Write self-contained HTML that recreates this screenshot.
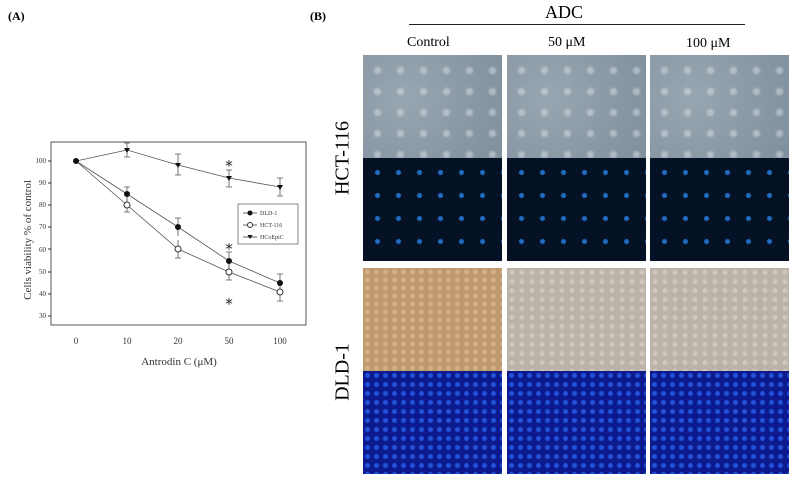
<!DOCTYPE html>
<html><head><style>
body{margin:0;width:794px;height:480px;background:#fff;position:relative;overflow:hidden;font-family:"Liberation Serif",serif}
.img{position:absolute;width:139px;height:103px}
.ph1{background:radial-gradient(circle at 30% 40%,#98a6b1,#7f8f9c);}
.ph1::after{content:"";position:absolute;inset:0;background-image:radial-gradient(circle,rgba(225,232,238,.45) 2px,transparent 5px);background-size:23px 21px;background-position:3px 5px}
.fl1{background-color:#051226;background-image:radial-gradient(circle,rgba(40,130,230,.8) 2px,transparent 3px);background-size:21px 23px;background-position:4px 3px}
.ph2{background:#bbb3a8;background-image:radial-gradient(circle,rgba(225,220,210,.5) 2px,transparent 3px);background-size:10px 9px}
.phc{background:#bf986d;background-image:radial-gradient(circle,rgba(225,200,160,.5) 2px,transparent 3px);background-size:9px 8px}
.fl2{background-color:#0c1a8e;background-image:radial-gradient(circle,rgba(40,100,240,.75) 2px,transparent 3px);background-size:9px 9px}
.t{position:absolute;white-space:nowrap}
</style></head><body>
<div class="t" style="left:8px;top:9px;font-size:12px;font-weight:bold">(A)</div>
<div class="t" style="left:310px;top:9px;font-size:12px;font-weight:bold">(B)</div>
<svg style="position:absolute;left:0;top:0" width="310" height="480" font-family="Liberation Serif">
<path d="M51 142H306V325H51Z" fill="none" stroke="#555" stroke-width="1"/>
<g font-size="7" text-anchor="end" fill="#333">
<text x="46" y="163">100</text><text x="46" y="185">90</text><text x="46" y="207">80</text><text x="46" y="229">70</text><text x="46" y="252">60</text><text x="46" y="274">50</text><text x="46" y="296">40</text><text x="46" y="318">30</text></g>
<g stroke="#333"><path d="M51 161h-3M51 183h-3M51 205h-3M51 227h-3M51 249h-3M51 272h-3M51 294h-3M51 316h-3"/></g>
<g font-size="9" text-anchor="middle" fill="#333">
<text x="76" y="344">0</text><text x="127" y="344">10</text><text x="178" y="344">20</text><text x="229" y="344">50</text><text x="280" y="344">100</text></g>
<text x="179" y="365" font-size="11" text-anchor="middle" fill="#333">Antrodin C (μM)</text>
<text transform="translate(31,240) rotate(-90)" font-size="11" text-anchor="middle" fill="#333">Cells viability % of control</text>
<g stroke="#555" fill="none" stroke-width="0.8">
<polyline points="76,161 127,150 178,165 229,178 280,187"/>
<polyline points="76,161 127,194 178,227 229,261 280,283"/>
<polyline points="76,161 127,205 178,249 229,272 280,292"/>
<path d="M127,143v14M124,143h6M124,157h6M178,154v21M175,154h6M175,175h6M229,170v17M226,170h6M226,187h6M280,178v18M277,178h6M277,196h6"/>
<path d="M127,187v14M124,187h6M178,218v18M175,218h6M229,252v18M226,252h6M226,270h6M280,274v18M277,274h6M277,292h6"/>
<path d="M127,198v14M124,212h6M178,240v18M175,258h6M229,263v17M226,280h6M280,283v18M277,301h6"/>
</g>
<g fill="#111"><circle cx="76" cy="161" r="3"/><circle cx="127" cy="194" r="3"/><circle cx="178" cy="227" r="3"/><circle cx="229" cy="261" r="3"/><circle cx="280" cy="283" r="3"/>
<path d="M124,148h6l-3,5zM175,163h6l-3,5zM226,176h6l-3,5zM277,185h6l-3,5z"/></g>
<g fill="#fff" stroke="#333"><circle cx="127" cy="205" r="3"/><circle cx="178" cy="249" r="3"/><circle cx="229" cy="272" r="3"/><circle cx="280" cy="292" r="3"/></g>
<g font-size="15" text-anchor="middle" fill="#222" font-family="DejaVu Sans"><text x="229" y="171">*</text><text x="229" y="254">*</text><text x="229" y="309">*</text></g>
<rect x="238" y="204" width="60" height="40" fill="#fff" stroke="#555" stroke-width="0.7"/>
<g stroke="#333" stroke-width="0.8"><path d="M243 213h14M243 225h14M243 237h14"/></g>
<circle cx="250" cy="213" r="2.5" fill="#111"/><circle cx="250" cy="225" r="2.5" fill="#fff" stroke="#333"/><path d="M247.5 235h5l-2.5 4z" fill="#111"/>
<g font-size="6" fill="#333"><text x="260" y="215">DLD-1</text><text x="260" y="227">HCT-116</text><text x="260" y="239">HCoEpiC</text></g>
</svg>
<div class="t" style="left:545px;top:2px;font-size:18px">ADC</div>
<div style="position:absolute;left:409px;top:24px;width:336px;height:1px;background:#222"></div>
<div class="t" style="left:407px;top:35px;font-size:14px">Control</div>
<div class="t" style="left:548px;top:35px;font-size:14px">50 μM</div>
<div class="t" style="left:686px;top:36px;font-size:14px">100 μM</div>
<div class="t" style="left:343px;top:158px;font-size:20px;transform:translate(-50%,-50%) rotate(-90deg)">HCT-116</div>
<div class="t" style="left:343px;top:372px;font-size:20px;transform:translate(-50%,-50%) rotate(-90deg)">DLD-1</div>
<div class="img ph1" style="left:363px;top:55px"></div>
<div class="img ph1" style="left:507px;top:55px"></div>
<div class="img ph1" style="left:650px;top:55px"></div>
<div class="img fl1" style="left:363px;top:158px"></div>
<div class="img fl1" style="left:507px;top:158px"></div>
<div class="img fl1" style="left:650px;top:158px"></div>
<div class="img phc" style="left:363px;top:268px"></div>
<div class="img ph2" style="left:507px;top:268px"></div>
<div class="img ph2" style="left:650px;top:268px"></div>
<div class="img fl2" style="left:363px;top:371px"></div>
<div class="img fl2" style="left:507px;top:371px"></div>
<div class="img fl2" style="left:650px;top:371px"></div>
</body></html>
